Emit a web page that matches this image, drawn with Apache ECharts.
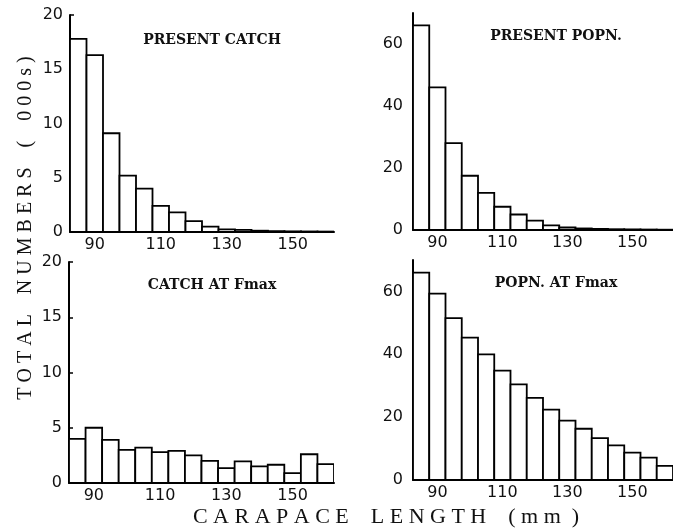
<!DOCTYPE html>
<html>
<head>
<meta charset="utf-8">
<script src="https://cdn.jsdelivr.net/npm/echarts@6/dist/echarts.min.js"></script>
<style>
html,body{margin:0;padding:0;background:#fff;}
#chart{width:673px;height:528px;}
</style>
</head>
<body>
<div id="chart"></div>
<script>
// ---- data ----
const binCenters = [85, 90, 95, 100, 105, 110, 115, 120, 125, 130, 135, 140, 145, 150, 155, 160];
const binWidth = 5;
const presentCatch = [17.8, 16.3, 9.1, 5.2, 4.0, 2.4, 1.8, 1.0, 0.5, 0.25, 0.2, 0.12, 0.08, 0.06, 0.05, 0.04];
const presentPopn = [66, 46, 28, 17.5, 12, 7.5, 5, 3, 1.5, 0.8, 0.5, 0.35, 0.25, 0.2, 0.15, 0.1];
const catchFmax = [4.0, 5.0, 3.9, 3.0, 3.2, 2.8, 2.9, 2.5, 2.0, 1.35, 1.95, 1.5, 1.65, 0.9, 2.6, 1.7];
const popnFmax = [66, 59.3, 51.5, 45.3, 40, 34.8, 30.4, 26.1, 22.4, 18.9, 16.3, 13.3, 11, 8.7, 7.1, 4.5];
const xTickLabels = [90, 110, 130, 150];
const catchYTicks = [0, 5, 10, 15, 20];
const popnYTicks = [0, 20, 40, 60];
const panelTitles = ['PRESENT CATCH', 'PRESENT POPN.', 'CATCH AT Fmax', 'POPN. AT Fmax'];
const yAxisTitle = 'T O T A L    N U M B E R S    (    0 0 0 s )';
const xAxisTitle = 'C A R A P A C E    L E N G T H    ( m m  )';

const panels = [
  {values: presentCatch, max: 20, ticks: catchYTicks, grid: {left: 70, top: 15, width: 264, height: 217}},
  {values: presentPopn, max: 70, ticks: popnYTicks, grid: {left: 413, top: 13, width: 261, height: 217}},
  {values: catchFmax, max: 20, ticks: catchYTicks, grid: {left: 69, top: 262, width: 265, height: 221}},
  {values: popnFmax, max: 70, ticks: popnYTicks, grid: {left: 413, top: 260, width: 261, height: 220}}
];
const titlePos = [[212, 40], [556, 36], [212, 285], [556, 283]];
const yLabelMargin = [7, 10, 7, 10];

const grids = [], xAxes = [], yAxes = [], series = [], graphics = [];
panels.forEach((p, i) => {
  grids.push(Object.assign({containLabel: false}, p.grid));
  xAxes.push({
    type: 'value', gridIndex: i, min: 82.5, max: 162.5,
    splitLine: {show: false},
    axisLine: {show: true, onZero: false, lineStyle: {color: '#000', width: 2}},
    axisTick: {show: false},
    axisLabel: {customValues: xTickLabels, color: '#111', fontSize: 16, fontFamily: 'DejaVu Sans', margin: 5}
  });
  yAxes.push({
    type: 'value', gridIndex: i, min: 0, max: p.max,
    splitLine: {show: false},
    axisLine: {show: true, lineStyle: {color: '#000', width: 2}},
    axisTick: {show: true, inside: true, length: 4, customValues: p.ticks, lineStyle: {color: '#000', width: 1.5}},
    axisLabel: {customValues: p.ticks, color: '#111', fontSize: 16, fontFamily: 'DejaVu Sans', margin: yLabelMargin[i]}
  });
  series.push({
    type: 'custom', xAxisIndex: i, yAxisIndex: i,
    data: binCenters.map((c, k) => [c, p.values[k]]),
    clip: true,
    renderItem: function (params, api) {
      const x = api.value(0), v = api.value(1);
      const p0 = api.coord([x - binWidth / 2, v]);
      const p1 = api.coord([x + binWidth / 2, 0]);
      return {
        type: 'rect',
        shape: {x: p0[0], y: p0[1], width: p1[0] - p0[0], height: p1[1] - p0[1]},
        style: {fill: '#fff', stroke: '#000', lineWidth: 1.8}
      };
    }
  });
  graphics.push({
    type: 'text', x: titlePos[i][0], y: titlePos[i][1],
    style: {text: panelTitles[i], font: 'bold 14px "DejaVu Serif"', fill: '#111', align: 'center', verticalAlign: 'middle'}
  });
});
graphics.push({
  type: 'text', x: 26, y: 228, rotation: Math.PI / 2,
  style: {text: yAxisTitle, font: '20px "Liberation Serif"', fill: '#111', align: 'center', verticalAlign: 'middle'}
});
graphics.push({
  type: 'text', x: 386, y: 517,
  style: {text: xAxisTitle, font: '22px "Liberation Serif"', fill: '#111', align: 'center', verticalAlign: 'middle'}
});

const chart = echarts.init(document.getElementById('chart'));
chart.setOption({
  animation: false,
  backgroundColor: '#fff',
  grid: grids, xAxis: xAxes, yAxis: yAxes, series: series,
  graphic: graphics
});
</script>
</body>
</html>
